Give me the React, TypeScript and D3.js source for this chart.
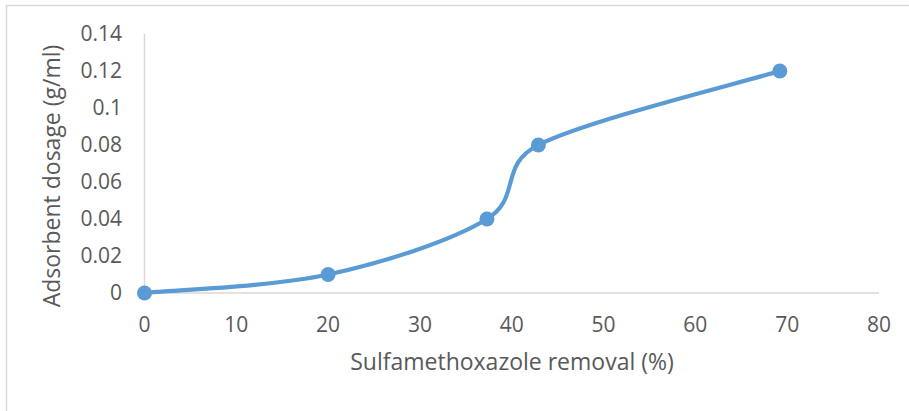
import React from "react";
import * as d3 from "d3";

const removal = [0, 20, 37.3, 42.9, 69.2];
const dosage = [0, 0.01, 0.04, 0.08, 0.12];
const xTicks = [0, 10, 20, 30, 40, 50, 60, 70, 80];
const yTicks = [0, 0.02, 0.04, 0.06, 0.08, 0.1, 0.12, 0.14];

const W = 909;
const H = 411;
const LINE = "#5B9BD5";
const TEXT = "#595959";
const GRID = "#d9d9d9";
const FONT = "'Open Sans', 'Liberation Sans', sans-serif";

type Pt = [number, number];

// Excel-like smoothing: Catmull-Rom bezier with control arms capped at half the segment
function smoothPath(pts: Pt[]) {
  const p = d3.path();
  const dist = (a: Pt, b: Pt) => Math.hypot(b[0] - a[0], b[1] - a[1]);
  p.moveTo(pts[0][0], pts[0][1]);
  for (let i = 0; i < pts.length - 1; i++) {
    const p0 = pts[Math.max(0, i - 1)];
    const p1 = pts[i];
    const p2 = pts[i + 1];
    const p3 = pts[Math.min(pts.length - 1, i + 2)];
    const d12 = dist(p1, p2);
    const d02 = dist(p0, p2);
    const d13 = dist(p1, p3);
    const f0 = d02 / 6 < d12 / 2 ? 1 / 6 : d12 / 2 / (d02 || 1);
    const f1 = d13 / 6 < d12 / 2 ? 1 / 6 : d12 / 2 / (d13 || 1);
    p.bezierCurveTo(
      p1[0] + (p2[0] - p0[0]) * f0,
      p1[1] + (p2[1] - p0[1]) * f0,
      p2[0] - (p3[0] - p1[0]) * f1,
      p2[1] - (p3[1] - p1[1]) * f1,
      p2[0],
      p2[1]
    );
  }
  return p.toString();
}

export default function App() {
  const x = d3.scaleLinear().domain([0, 80]).range([144.5, 879]);
  const y = d3.scaleLinear().domain([0, 0.14]).range([293, 34]);

  const pts = removal.map((r, i) => [x(r), y(dosage[i])] as Pt);
  const line = smoothPath(pts);

  return (
    <div style={{ position: "absolute", left: 0, top: 0 }}>
      <svg width={W} height={H} style={{ display: "block", fontFamily: FONT }}>
        <rect x={0} y={0} width={W} height={H} fill="#fff" />
        <rect x={6.5} y={5.5} width={W + 10} height={H + 10} fill="none" stroke={GRID} strokeWidth={1.5} />

        {/* axes */}
        <line x1={x(0)} x2={x(0)} y1={y(0.14)} y2={y(0)} stroke={GRID} strokeWidth={1.5} />
        <line x1={x(0)} x2={x(80)} y1={y(0)} y2={y(0)} stroke={GRID} strokeWidth={1.5} />

        {yTicks.map((t) => (
          <text key={t} x={122} y={y(t)} dy="0.35em" textAnchor="end" fontSize={21} fill={TEXT}>
            {String(t)}
          </text>
        ))}
        {xTicks.map((t) => (
          <text key={t} x={x(t)} y={325} dy="0.35em" textAnchor="middle" fontSize={21} fill={TEXT}>
            {t}
          </text>
        ))}

        <text x={512} y={362} dy="0.35em" textAnchor="middle" fontSize={23} fill={TEXT}>
          Sulfamethoxazole removal (%)
        </text>
        <text
          transform={`translate(52,176) rotate(-90)`}
          dy="0.35em"
          textAnchor="middle"
          fontSize={23}
          fill={TEXT}
        >
          Adsorbent dosage (g/ml)
        </text>

        <path d={line} fill="none" stroke={LINE} strokeWidth={4.2} strokeLinecap="round" />
        {pts.map(([px, py], i) => (
          <circle key={i} cx={px} cy={py} r={7.5} fill={LINE} />
        ))}
      </svg>
    </div>
  );
}
